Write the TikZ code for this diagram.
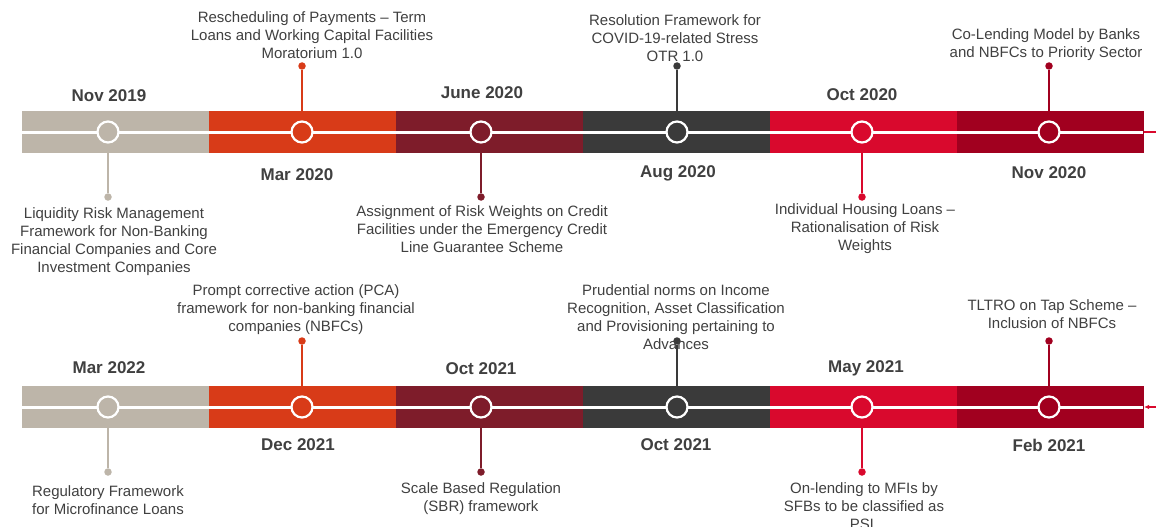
\documentclass[tikz,border=0pt]{standalone}
\usepackage{fontspec}
\setmainfont{Liberation Sans}
\usetikzlibrary{arrows.meta, positioning}

\definecolor{segBeige}{HTML}{BDB5A9}
\definecolor{segOrange}{HTML}{D83B18}
\definecolor{segWine}{HTML}{7E1C2A}
\definecolor{segGrey}{HTML}{3A3A3A}
\definecolor{segRed}{HTML}{D9092D}
\definecolor{segCrimson}{HTML}{A1001F}
\definecolor{txtGrey}{HTML}{404040}

\tikzset{
  ring/.style={circle, draw=white, line width=2.2pt, minimum size=21pt, inner sep=0pt},
  pin/.style={circle, inner sep=0pt, minimum size=7.5pt},
  stem/.style={line width=2pt},
  datelbl/.style={font=\fontsize{17}{19}\selectfont\bfseries, text=txtGrey},
  desc/.style={font=\fontsize{15}{18}\selectfont, text=txtGrey, align=center, anchor=north, inner sep=0pt},
}

\begin{document}
\begin{tikzpicture}[x=1pt, y=-1pt]
\useasboundingbox (0,0) rectangle (1156,527);
\clip (0,0) rectangle (1156,527);

% Draw the two bars
\foreach \r/\yb in {t/132, b/407} {
  \foreach \i/\col in {0/segBeige, 1/segOrange, 2/segWine, 3/segGrey, 4/segRed, 5/segCrimson} {
    \fill[\col] ({22+\i*187},\yb-21) rectangle ++(187,42);
  }
  \draw[white, line width=3pt] (22,\yb) -- (1143,\yb);
  % Draw milestones and stems
  \foreach \i/\col/\cx/\dy in {0/segBeige/108/65, 1/segOrange/302/-66, 2/segWine/481/65, 3/segGrey/677/-66, 4/segRed/862/65, 5/segCrimson/1049/-66} {
    \node[ring, fill=\col] (\r\i) at (\cx,\yb) {};
    \node[pin, fill=\col] (\r p\i) at (\cx,\yb+\dy) {};
    \draw[stem, \col] (\r\i) -- (\r p\i);
  }
}

% Bar ends
\coordinate (tHead) at (1144,132);
\coordinate (tTail) at (1156,132);
\draw[segRed, line width=1.5pt] (tHead) -- (tTail);
\coordinate (bHead) at (1144,407);
\coordinate (bTail) at (1156,407);
\draw[segRed, line width=1.5pt, -{Latex[length=5pt, width=4.5pt]}] (bTail) -- (bHead);

% Dates
\foreach \x/\y/\d [count=\n] in {109/96/Nov 2019, 297/175/Mar 2020, 482/93/June 2020, 678/173/Aug 2020, 862/95/Oct 2020, 1049/173/Nov 2020,
    109/368/Mar 2022, 298/445/Dec 2021, 481/369/Oct 2021, 676/445/Oct 2021, 866/368/May 2021, 1049/445/Feb 2021} {
  \node[datelbl] (date\n) at (\x,\y) {\d};
}

% Descriptions
\foreach \x/\y/\t [count=\n] in {
    114/213/{Liquidity Risk Management\\Framework for Non-Banking\\Financial Companies and Core\\Investment Companies},
    312/17/{Rescheduling of Payments – Term\\Loans and Working Capital Facilities\\Moratorium 1.0},
    482/211/{Assignment of Risk Weights on Credit\\Facilities under the Emergency Credit\\Line Guarantee Scheme},
    675/20/{Resolution Framework for\\COVID-19-related Stress\\OTR 1.0},
    865/209/{Individual Housing Loans –\\Rationalisation of Risk\\Weights},
    1046/34/{Co-Lending Model by Banks\\and NBFCs to Priority Sector},
    108/491/{Regulatory Framework\\for Microfinance Loans},
    296/290/{Prompt corrective action (PCA)\\framework for non-banking financial\\companies (NBFCs)},
    481/488/{Scale Based Regulation\\(SBR) framework},
    676/290/{Prudential norms on Income\\Recognition, Asset Classification\\and Provisioning pertaining to\\Advances},
    864/488/{On-lending to MFIs by\\SFBs to be classified as\\PSL},
    1052/305/{TLTRO on Tap Scheme –\\Inclusion of NBFCs}} {
  \node[desc] (desc\n) at (\x,\y-6) {\t};
}
\end{tikzpicture}
\end{document}
